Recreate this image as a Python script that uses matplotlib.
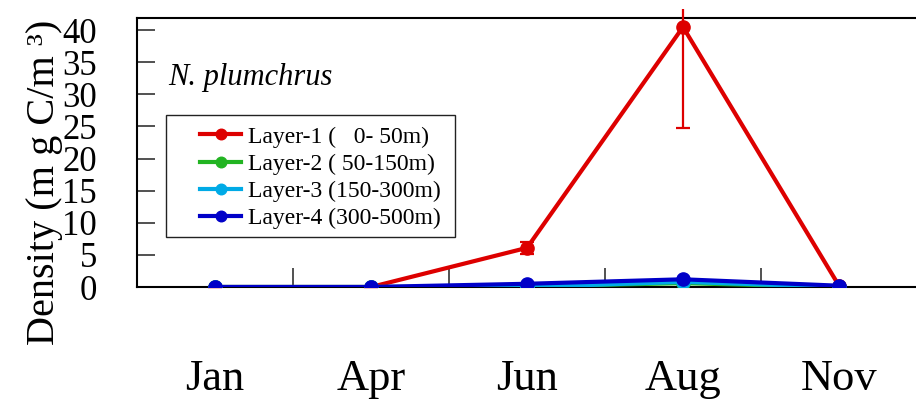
import matplotlib
matplotlib.use("Agg")
import matplotlib.pyplot as plt
from matplotlib.patches import Rectangle
from matplotlib.transforms import Bbox, TransformedBbox

months = ["Jan", "Apr", "Jun", "Aug", "Nov"]
layer1 = [0.0, 0.0, 6.1, 40.5, 0.2]
layer1_err = [0.0, 0.0, 0.9, 15.8, 0.0]
layer2 = [0.0, 0.0, 0.1, 0.6, 0.0]
layer3 = [0.0, 0.0, 0.0, 0.8, 0.0]
layer4 = [0.0, 0.0, 0.5, 1.2, 0.2]
labels = ["Layer-1 (   0- 50m)", "Layer-2 ( 50-150m)",
          "Layer-3 (150-300m)", "Layer-4 (300-500m)"]
colors = ["#DD0000", "#22B422", "#00AAE6", "#0000C8"]
yticks = [0, 5, 10, 15, 20, 25, 30, 35, 40]

plt.rcParams["font.family"] = ["Liberation Serif", "DejaVu Serif"]

fig = plt.figure(figsize=(9.16, 4.0), dpi=100)
ax = fig.add_axes([137 / 916, 1 - 287 / 400, 780 / 916, 269 / 400])

x = list(range(len(months)))
series = [layer1, layer2, layer3, layer4]
handles = []
for i, (vals, c, lab) in enumerate(zip(series, colors, labels)):
    if i == 0:
        cont = ax.errorbar(x, vals, yerr=layer1_err, color=c, lw=3, marker="o",
                           ms=9.5, capsize=5, elinewidth=1.6, capthick=1.6,
                           zorder=3 + i)
        bb = TransformedBbox(Bbox([[0, -0.1], [1, 1.035]]), ax.transAxes)
        for cl in cont[1]:
            cl.set_clip_box(bb)
        for bl in cont[2]:
            bl.set_clip_box(bb)
        handles.append(cont[0])
    else:
        ln, = ax.plot(x, vals, color=c, lw=3, marker="o", ms=9.5,
                      zorder=3 + i)
        handles.append(ln)

ax.set_xlim(-0.5, 4.5)
ax.set_ylim(0, 41.9)

ax.set_xticks(x)
ax.set_xticklabels(months, fontsize=32)
ax.tick_params(axis="x", which="major", length=0, pad=52)
ax.set_xticks([0.5, 1.5, 2.5, 3.5], minor=True)
ax.tick_params(axis="x", which="minor", direction="in", length=14, width=1.2,
               color="#333333")

ax.set_yticks(yticks)
ax.set_yticklabels([str(v) for v in yticks], fontsize=25)
ax.tick_params(axis="y", direction="in", length=13, width=1.2, pad=29,
               color="#333333")

ax.spines["right"].set_visible(False)
for s in ["top", "bottom", "left"]:
    ax.spines[s].set_linewidth(1.5)
    ax.spines[s].set_color("black")

ax.text(-0.118, 0.39, "Density (m g C/m \u00b3)", rotation=90, fontsize=29,
        ha="center", va="center", transform=ax.transAxes)

ax.text(0.04, 0.777, "N. plumchrus", style="italic", fontsize=22,
        ha="left", va="center", transform=ax.transAxes)

ax.add_patch(Rectangle((0.0372, 0.186), 0.3705, 0.4535, transform=ax.transAxes,
                       fill=False, edgecolor="#222222", lw=1.0, zorder=2))
leg = ax.legend(handles, labels, loc="upper left",
                bbox_to_anchor=(0.0808, 0.598), frameon=False, fontsize=17,
                borderpad=0, borderaxespad=0, handlelength=1.75,
                handletextpad=0.3, labelspacing=0.24, markerscale=0.8)

fig.savefig("out.png", dpi=100)
